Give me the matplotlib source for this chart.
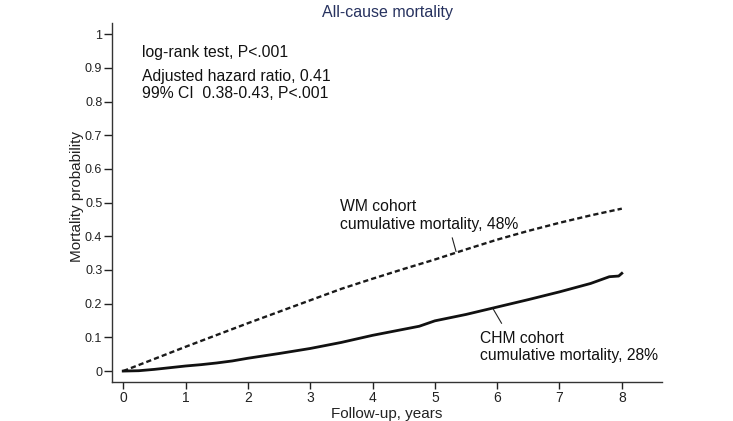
import matplotlib
matplotlib.use("Agg")
import matplotlib.pyplot as plt

plt.rcParams["font.family"] = ["Liberation Sans", "DejaVu Sans"]

# Kaplan-Meier style cumulative mortality
years_wm = [0, 0.5, 1, 1.5, 2, 2.5, 3, 3.5, 4, 4.5, 5, 5.5, 6, 6.5, 7, 7.5, 8]
mort_wm = [0.0, 0.036, 0.072, 0.107, 0.142, 0.176, 0.21, 0.244, 0.274, 0.303,
           0.331, 0.361, 0.39, 0.416, 0.44, 0.462, 0.482]

years_chm = [0, 0.25, 0.5, 0.75, 1, 1.25, 1.5, 1.75, 2, 2.5, 3, 3.5, 4, 4.5, 4.75,
             5, 5.5, 6, 6.5, 7, 7.5, 7.8, 7.95, 8]
mort_chm = [0.0, 0.001, 0.005, 0.01, 0.015, 0.019, 0.024, 0.03, 0.038, 0.052, 0.067,
            0.085, 0.106, 0.124, 0.133, 0.149, 0.168, 0.19, 0.212, 0.235, 0.26,
            0.28, 0.282, 0.29]

x_ticks = list(range(0, 9))
y_ticks = [0, 0.1, 0.2, 0.3, 0.4, 0.5, 0.6, 0.7, 0.8, 0.9, 1]
y_tick_labels = ["0", "0.1", "0.2", "0.3", "0.4", "0.5", "0.6", "0.7", "0.8", "0.9", "1"]

fig = plt.figure(figsize=(7.33, 4.21), dpi=100)
ax = fig.add_axes([112 / 733, 39.5 / 421, 549.7 / 733, 358.5 / 421])

ax.plot(years_wm, mort_wm, color="#1a1a1a", lw=1.7, ls=(0, (2.2, 1.3)))
ax.plot(years_chm, mort_chm, color="#111111", lw=2.0)

ax.set_xlim(-0.18, 8.64)
ax.set_ylim(-0.031, 1.033)
ax.set_xticks(x_ticks)
ax.set_yticks(y_ticks)
ax.set_yticklabels(y_tick_labels)
for s in ["top", "right"]:
    ax.spines[s].set_visible(False)
for s in ["left", "bottom"]:
    ax.spines[s].set_linewidth(1.0)
    ax.spines[s].set_color("#333333")
ax.tick_params(axis="y", length=6, width=1, pad=1, labelsize=9, colors="#222222")
ax.tick_params(axis="x", length=5, width=1, pad=2, labelsize=10, colors="#222222")

ax.set_xlabel("Follow-up, years", fontsize=11, color="#222222", labelpad=1)
ax.set_ylabel("Mortality probability", fontsize=11, color="#222222")
ax.yaxis.set_label_coords(-0.051, 0.516)
fig.text(387 / 733, 1 - 12 / 421, "All-cause mortality", fontsize=11.5,
         color="#27325f", ha="center", va="center")

# stats text
ax.text(0.3, 0.944, "log-rank test, P<.001", fontsize=11.3, va="center", color="#111111")
ax.text(0.3, 0.895, "Adjusted hazard ratio, 0.41\n99% CI  0.38-0.43, P<.001",
        fontsize=11.3, va="top", color="#111111", linespacing=1.12)

# curve labels with leader lines
ax.text(3.48, 0.51, "WM cohort\ncumulative mortality, 48%", fontsize=11.3,
        va="top", color="#111111", linespacing=1.2)
ax.plot([5.28, 5.34], [0.395, 0.355], color="#222222", lw=0.8)

ax.text(5.72, 0.12, "CHM cohort\ncumulative mortality, 28%", fontsize=11.3,
        va="top", color="#111111", linespacing=1.2)
ax.plot([5.94, 6.07], [0.183, 0.142], color="#222222", lw=0.8)

fig.savefig("out.png", dpi=100)
